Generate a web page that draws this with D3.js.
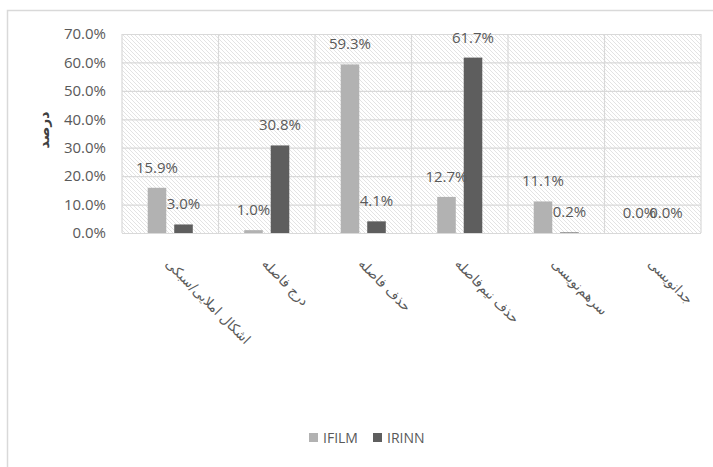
<!DOCTYPE html>
<html>
<head>
<meta charset="utf-8">
<script src="https://cdn.jsdelivr.net/npm/d3@7"></script>
<style>
  body { margin: 0; background: #fff; }
  svg { display: block; }
</style>
</head>
<body>
<div id="chart"></div>
<script>
const categories = ["اشکال املایی/سبکی", "درج فاصله", "حذف فاصله", "حذف نیم‌فاصله", "سرهم‌نویسی", "جدانویسی"]
const seriesNames = ["IFILM", "IRINN"]
const ifilmValues = [15.9, 1.0, 59.3, 12.7, 11.1, 0.0]
const irinnValues = [3.0, 30.8, 4.1, 61.7, 0.2, 0.0]
const yTicks = [0, 10, 20, 30, 40, 50, 60, 70]
const yTitle = "درصد"

const colors = {IFILM: "#b2b2b2", IRINN: "#5e5e5e"}
const textColor = "#595959"
const gridColor = "#d9d9d9"
const latinFont = "'Open Sans', sans-serif"
const arabicFont = "'DejaVu Sans', sans-serif"

const width = 713, height = 467
const plot = {left: 122, right: 701, top: 34, bottom: 233}

const data = categories.map((c, i) => ({
  category: c,
  values: [
    {series: "IFILM", value: ifilmValues[i]},
    {series: "IRINN", value: irinnValues[i]}
  ]
}))

const svg = d3.select("#chart")
  .append("svg")
  .attr("width", width)
  .attr("height", height)

// hatch fill of the plot area
const defs = svg.append("defs")
defs.append("pattern")
  .attr("id", "hatch")
  .attr("patternUnits", "userSpaceOnUse")
  .attr("width", 4)
  .attr("height", 4)
  .append("path")
  .attr("d", "M-1,-1 L5,5 M-1,3 L1,5 M3,-1 L5,1")
  .attr("stroke", "#dcdcdc")
  .attr("stroke-width", 0.8)

// outer chart border (runs off the right / bottom edge)
svg.append("rect")
  .attr("x", 7.5)
  .attr("y", 10.5)
  .attr("width", 760)
  .attr("height", 500)
  .attr("fill", "none")
  .attr("stroke", gridColor)
  .attr("stroke-width", 1.5)

const x = d3.scaleBand()
  .domain(categories)
  .range([plot.left, plot.right])

const xSub = d3.scaleBand()
  .domain(seriesNames)
  .range([0, x.bandwidth()])
  .paddingInner(0.3)
  .paddingOuter(0.97)

const y = d3.scaleLinear()
  .domain([0, 70])
  .range([plot.bottom, plot.top])

svg.append("rect")
  .attr("x", plot.left)
  .attr("y", plot.top)
  .attr("width", plot.right - plot.left)
  .attr("height", plot.bottom - plot.top)
  .attr("fill", "url(#hatch)")

// horizontal gridlines
svg.append("g")
  .selectAll("line")
  .data(yTicks)
  .join("line")
  .attr("x1", plot.left)
  .attr("x2", plot.right)
  .attr("y1", d => y(d) + 0.5)
  .attr("y2", d => y(d) + 0.5)
  .attr("stroke", gridColor)
  .attr("stroke-width", 1.2)

// vertical gridlines at category boundaries
const bounds = categories.map(c => x(c)).concat([plot.right])
svg.append("g")
  .selectAll("line")
  .data(bounds)
  .join("line")
  .attr("x1", d => d)
  .attr("x2", d => d)
  .attr("y1", plot.top)
  .attr("y2", plot.bottom)
  .attr("stroke", gridColor)
  .attr("stroke-width", 1.2)

// y axis labels
const yAxis = svg.append("g")
  .attr("transform", `translate(${plot.left - 16},0)`)
  .call(d3.axisLeft(y).tickValues(yTicks).tickSize(0).tickPadding(0)
    .tickFormat(d => d.toFixed(1) + "%"))
yAxis.select(".domain").remove()
yAxis.selectAll("text")
  .attr("fill", textColor)
  .style("font-family", latinFont)
  .style("font-size", "15px")

svg.append("text")
  .attr("transform", "translate(49,130) rotate(-90)")
  .attr("text-anchor", "middle")
  .attr("fill", "#404040")
  .style("font-family", arabicFont)
  .style("font-size", "14px")
  .style("font-weight", "bold")
  .text(yTitle)

// bars
const groups = svg.append("g")
  .selectAll("g")
  .data(data)
  .join("g")
  .attr("transform", d => `translate(${x(d.category)},0)`)

groups.selectAll("rect")
  .data(d => d.values)
  .join("rect")
  .attr("x", d => xSub(d.series))
  .attr("width", xSub.bandwidth())
  .attr("y", d => y(d.value))
  .attr("height", d => y(0) - y(d.value))
  .attr("fill", d => colors[d.series])

groups.selectAll("text")
  .data(d => d.values)
  .join("text")
  .attr("x", d => xSub(d.series) + xSub.bandwidth() / 2)
  .attr("y", d => y(d.value) - 15)
  .attr("text-anchor", "middle")
  .attr("fill", textColor)
  .style("font-family", latinFont)
  .style("font-size", "15px")
  .text(d => d.value.toFixed(1) + "%")

// rotated category labels
svg.append("g")
  .selectAll("text")
  .data(categories)
  .join("text")
  .attr("transform", d => `translate(${x(d) + x.bandwidth() / 2 + 3},256) rotate(45)`)
  .attr("dy", "0.9em")
  .attr("text-anchor", "start")
  .attr("fill", textColor)
  .style("font-family", arabicFont)
  .style("font-size", "13.5px")
  .text(d => d)

// legend
const legend = svg.append("g")
  .attr("transform", "translate(309,433)")
const legendItems = legend.selectAll("g")
  .data(seriesNames)
  .join("g")
  .attr("transform", (d, i) => `translate(${i * 64},0)`)
legendItems.append("rect")
  .attr("width", 9)
  .attr("height", 9)
  .attr("fill", d => colors[d])
legendItems.append("text")
  .attr("x", 14)
  .attr("y", 10)
  .attr("fill", textColor)
  .style("font-family", latinFont)
  .style("font-size", "14px")
  .text(d => d)
</script>
</body>
</html>
